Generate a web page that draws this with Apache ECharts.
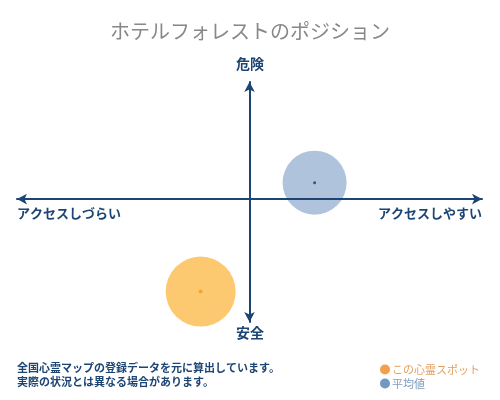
<!DOCTYPE html>
<html>
<head>
<meta charset="utf-8">
<script src="https://cdn.jsdelivr.net/npm/echarts@6/dist/echarts.min.js"></script>
<style>
    html, body { margin: 0; padding: 0; background: #fff; }
    #chart { width: 500px; height: 400px; }
</style>
</head>
<body>
<div id="chart"></div>
<script>
// Data
const seriesNames = ['この心霊スポット', '平均値'];
const spotPoint = [-21, -79];
const averagePoint = [28, 14];
const axisLabels = { top: '危険', bottom: '安全', left: 'アクセスしづらい', right: 'アクセスしやすい' };
const notes = ['全国心霊マップの登録データを元に算出しています。', '実際の状況とは異なる場合があります。'];

const font = '"Noto Sans CJK JP", sans-serif';
const navy = '#1d4573';

const chart = echarts.init(document.getElementById('chart'));

// axis lines sit on their own layer so they stay visible over the circles
const axisLineStyle = {
    onZero: true,
    symbol: ['arrow', 'arrow'],
    symbolSize: [8, 10],
    lineStyle: { color: navy, width: 2 }
};

chart.setOption({
    backgroundColor: '#fff',
    animation: false,
    textStyle: { fontFamily: font },
    title: {
        text: 'ホテルフォレストのポジション',
        left: 'center',
        top: 16,
        textStyle: { fontFamily: font, fontSize: 20, fontWeight: 'normal', color: '#888' }
    },
    grid: { left: 17, right: 18, top: 82, bottom: 78 },
    xAxis: {
        type: 'value',
        min: -100,
        max: 100,
        zlevel: 1,
        axisLine: axisLineStyle,
        axisTick: { show: false },
        axisLabel: { show: false },
        splitLine: { show: false }
    },
    yAxis: {
        type: 'value',
        min: -105,
        max: 100,
        zlevel: 1,
        axisLine: axisLineStyle,
        axisTick: { show: false },
        axisLabel: { show: false },
        splitLine: { show: false }
    },
    legend: {
        orient: 'vertical',
        left: 375,
        top: 359,
        itemWidth: 10,
        itemHeight: 10,
        itemGap: 3,
        icon: 'circle',
        data: [
            { name: seriesNames[0], itemStyle: { color: '#f2a04c' }, textStyle: { color: '#e2a062' } },
            { name: seriesNames[1], itemStyle: { color: '#7199c4' }, textStyle: { color: '#7f9cc0' } }
        ],
        textStyle: { fontFamily: font, fontSize: 11, padding: [0, 0, 0, -3] }
    },
    graphic: [
        { type: 'text', left: 'center', top: 57, style: { text: axisLabels.top, font: 'bold 14px ' + font, fill: navy } },
        { type: 'text', left: 'center', top: 326, style: { text: axisLabels.bottom, font: 'bold 14px ' + font, fill: navy } },
        { type: 'text', left: 17, top: 207, style: { text: axisLabels.left, font: 'bold 13px ' + font, fill: navy } },
        { type: 'text', right: 18, top: 207, style: { text: axisLabels.right, font: 'bold 13px ' + font, fill: navy } },
        { type: 'text', left: 17, top: 362, style: { text: notes[0], font: 'bold 11px ' + font, fill: navy } },
        { type: 'text', left: 17, top: 376, style: { text: notes[1], font: 'bold 11px ' + font, fill: navy } }
    ],
    series: [
        {
            name: seriesNames[0],
            type: 'scatter',
            data: [spotPoint],
            symbolSize: 70,
            itemStyle: { color: 'rgba(252,183,64,0.75)', opacity: 1 }
        },
        {
            name: seriesNames[1],
            type: 'scatter',
            data: [averagePoint],
            symbolSize: 64,
            itemStyle: { color: 'rgba(110,148,192,0.55)', opacity: 1 }
        },
        {
            name: 'spotCenter',
            type: 'scatter',
            data: [spotPoint],
            symbolSize: 4,
            itemStyle: { color: '#f0a020' },
            z: 4
        },
        {
            name: 'averageCenter',
            type: 'scatter',
            data: [averagePoint],
            symbolSize: 3,
            itemStyle: { color: '#1d3a60' },
            z: 4
        }
    ]
});
</script>
</body>
</html>
